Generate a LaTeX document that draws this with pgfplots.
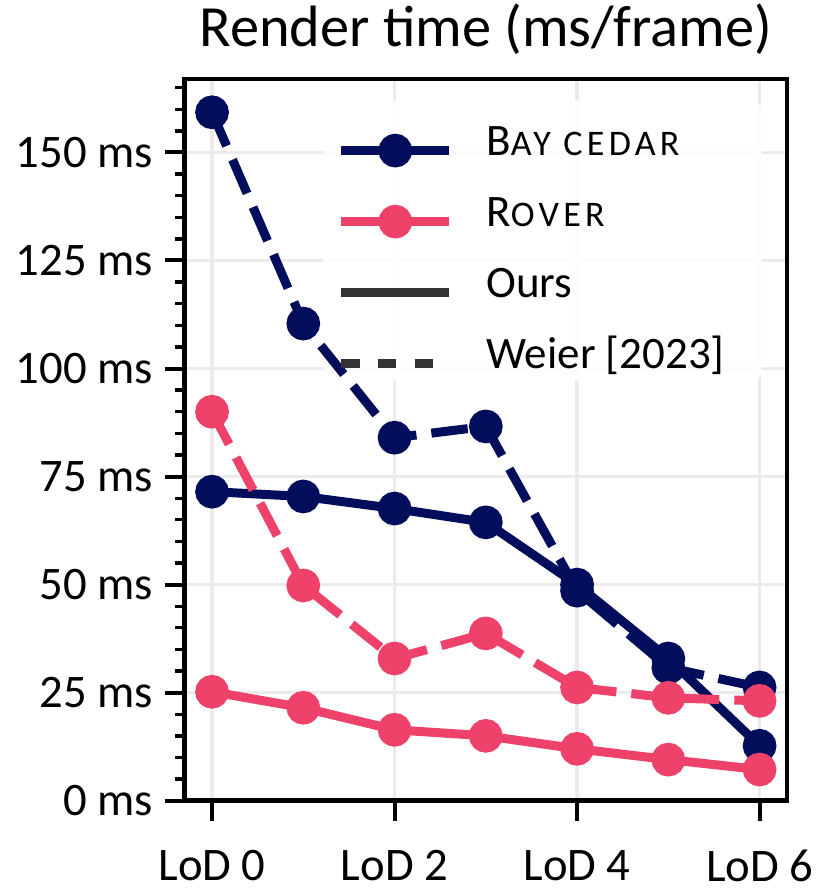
\documentclass[border=0pt]{standalone}
\usepackage{fontspec}
\setmainfont{Carlito}
\usepackage{pgfplots}
\pgfplotsset{compat=1.18}
\definecolor{navy}{RGB}{2,13,92}
\definecolor{pinkc}{RGB}{239,66,107}
\definecolor{gridc}{RGB}{235,235,235}
\definecolor{legg}{RGB}{51,51,51}
\newcommand{\fsc}[2]{#1{\fontsize{10.8}{10.8}\selectfont\addfontfeature{LetterSpace=12}#2}}
\begin{document}
\begin{tikzpicture}
\begin{axis}[
  scale only axis, width=180.7pt, height=216.5pt,
  xmin=-0.3, xmax=6.3, ymin=0, ymax=167,
  xtick={0,2,4,6}, xticklabels={LoD 0,LoD 2,LoD 4,LoD 6},
  ytick={0,25,50,75,100,125,150},
  yticklabels={0 ms,25 ms,50 ms,75 ms,100 ms,125 ms,150 ms},
  minor ytick={5,10,15,20,30,35,40,45,55,60,65,70,80,85,90,95,105,110,115,120,130,135,140,145,155,160,165},
  tick align=outside, tick pos=left,
  major tick length=6pt, minor tick length=3pt,
  major tick style={line width=1.2pt, black},
  minor tick style={line width=1pt, black},
  axis line style={line width=1.4pt},
  xmajorgrids, ymajorgrids,
  major grid style={gridc, line width=1pt},
  ticklabel style={font=\fontsize{14}{14}\selectfont},
  xticklabel style={yshift=-5.4pt},
  title={Render time (ms/frame)},
  title style={font=\fontsize{17.5}{17.5}\selectfont, anchor=base, at={(0.5,1)}, yshift=3.6pt},
  legend style={at={(axis cs:1.36,158.8)}, anchor=north west, draw=none, fill=none,
    font=\fontsize{13.5}{13.5}\selectfont, inner sep=0pt,
    nodes={inner sep=0pt, text height=12.2pt, text depth=9.1pt, anchor=west},
    column sep=9.8pt},
  legend cell align=left,
  legend image code/.code={\draw[mark repeat=2,mark phase=2,#1] plot coordinates {(0pt,0pt) (16.2pt,0pt) (32.4pt,0pt)};},
]
% legend backdrop (semi-opaque, above grid, below data)
\fill[white, opacity=0.85, rounded corners=3pt] (axis cs:1.216,97.2) rectangle (axis cs:6.024,162.0);
% Bay cedar, Ours
\addplot[navy, line width=2.7pt, mark=*, mark size=3.7pt, forget plot] coordinates {
 (0,71.5) (1,70.4) (2,67.6) (3,64.4) (4,50.0) (5,32.9) (6,12.7)};
% Bay cedar, Weier
\addplot[navy, line width=2.7pt, dash pattern=on 11pt off 4.5pt, mark=*, mark size=3.7pt, mark options={solid}, forget plot] coordinates {
 (0,159.3) (1,110.4) (2,84.0) (3,86.6) (4,48.6) (5,30.8) (6,26.2)};
% Rover, Ours
\addplot[pinkc, line width=2.7pt, mark=*, mark size=3.7pt, forget plot] coordinates {
 (0,25.2) (1,21.5) (2,16.4) (3,15.0) (4,12.0) (5,9.5) (6,7.2)};
% Rover, Weier
\addplot[pinkc, line width=2.7pt, dash pattern=on 11pt off 4.5pt, mark=*, mark size=3.7pt, mark options={solid}, forget plot] coordinates {
 (0,90.0) (1,49.8) (2,32.9) (3,38.7) (4,26.2) (5,23.8) (6,23.1)};
\addlegendimage{navy, line width=2.7pt, mark=*, mark size=3.7pt}
\addlegendentry{\fsc{B}{AY CEDAR}}
\addlegendimage{pinkc, line width=2.7pt, mark=*, mark size=3.7pt}
\addlegendentry{\fsc{R}{OVER}}
\addlegendimage{legg, line width=2.7pt}
\addlegendentry{Ours}
\addlegendimage{legg, line width=2.7pt, dash pattern=on 5.5pt off 5.5pt}
\addlegendentry{Weier [2023]}
\end{axis}
\pgfresetboundingbox
\path ([xshift=-55.4pt,yshift=-27.4pt]current axis.south west) rectangle ([xshift=9.9pt,yshift=23.7pt]current axis.north east);
\end{tikzpicture}
\end{document}
